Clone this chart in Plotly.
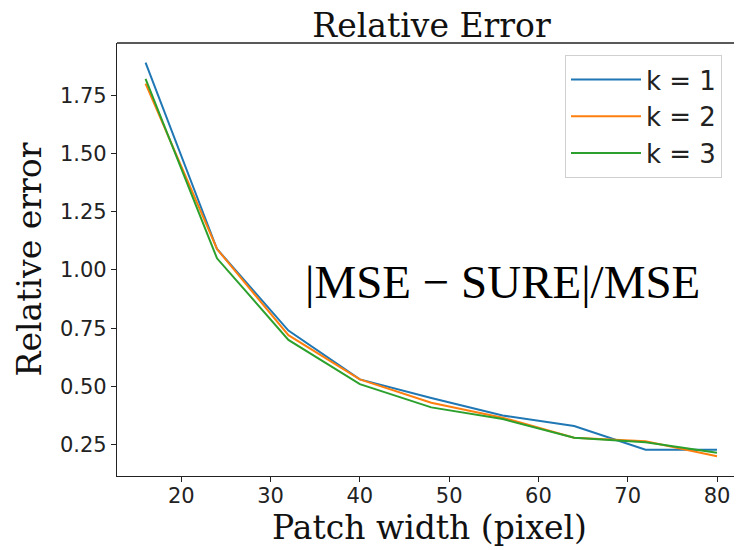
import plotly.graph_objects as go

patch_width = [16, 24, 32, 40, 48, 56, 64, 72, 80]
k1 = [1.89, 1.09, 0.74, 0.53, 0.45, 0.375, 0.33, 0.228, 0.228]
k2 = [1.80, 1.09, 0.72, 0.53, 0.43, 0.366, 0.28, 0.265, 0.20]
k3 = [1.82, 1.05, 0.70, 0.51, 0.41, 0.36, 0.28, 0.26, 0.215]
series_names = ["k = 1", "k = 2", "k = 3"]
colors = ["#1f77b4", "#ff7f0e", "#2ca02c"]
y_ticks = [0.25, 0.50, 0.75, 1.00, 1.25, 1.50, 1.75]
x_ticks = [20, 30, 40, 50, 60, 70, 80]

fig = go.Figure()
for name, ys, c in zip(series_names, [k1, k2, k3], colors):
    fig.add_trace(go.Scatter(x=patch_width, y=ys, mode="lines", name=name,
                             line=dict(color=c, width=2)))

fig.add_annotation(x=56, y=0.95, xref="x", yref="y",
                   text="|MSE − SURE|/MSE", showarrow=False,
                   font=dict(family="Liberation Serif", size=47, color="black"))

fig.add_shape(type="line", xref="paper", yref="paper", x0=0, x1=1, y0=1, y1=1,
              line=dict(color="#222", width=1.3))

fig.update_layout(
    width=734, height=542,
    margin=dict(l=109, r=0, t=35, b=74),
    plot_bgcolor="white", paper_bgcolor="white",
    title=dict(text="Relative Error", x=(431.5 - 8) / 734, xanchor="center",
               y=1 - 17 / 542, yanchor="middle",
               font=dict(family="DejaVu Serif", size=33, color="#111")),
    xaxis=dict(range=[12.8, 82.8], tickvals=x_ticks, ticks="outside", ticklen=5,
               tickcolor="#222", showline=True, linecolor="#222", linewidth=1.3,
               showgrid=False, zeroline=False, automargin=False,
               ticklabelstandoff=-4,
               tickfont=dict(family="DejaVu Sans", size=21, color="#222"),
               title=dict(text="Patch width (pixel)", standoff=6,
                          font=dict(family="DejaVu Serif", size=33, color="#111"))),
    yaxis=dict(range=[0.1155, 1.9745], tickvals=y_ticks, ticktext=[f"{v:.2f}" for v in y_ticks],
               ticks="outside", ticklen=5,
               tickcolor="#222", showline=True, linecolor="#222", linewidth=1.3,
               showgrid=False, zeroline=False, automargin=False,
               tickfont=dict(family="DejaVu Sans", size=21, color="#222"),
               title=dict(text="Relative error", standoff=8,
                          font=dict(family="DejaVu Serif", size=33, color="#111"))),
    legend=dict(x=(565 - 117) / 625, y=1 - (55 - 43) / 433, xanchor="left", yanchor="top",
                bgcolor="white", bordercolor="#d0d0d0", borderwidth=1,
                itemwidth=70,
                font=dict(family="DejaVu Sans", size=26, color="#222")),
    showlegend=True,
)

fig.write_html("out.html")
